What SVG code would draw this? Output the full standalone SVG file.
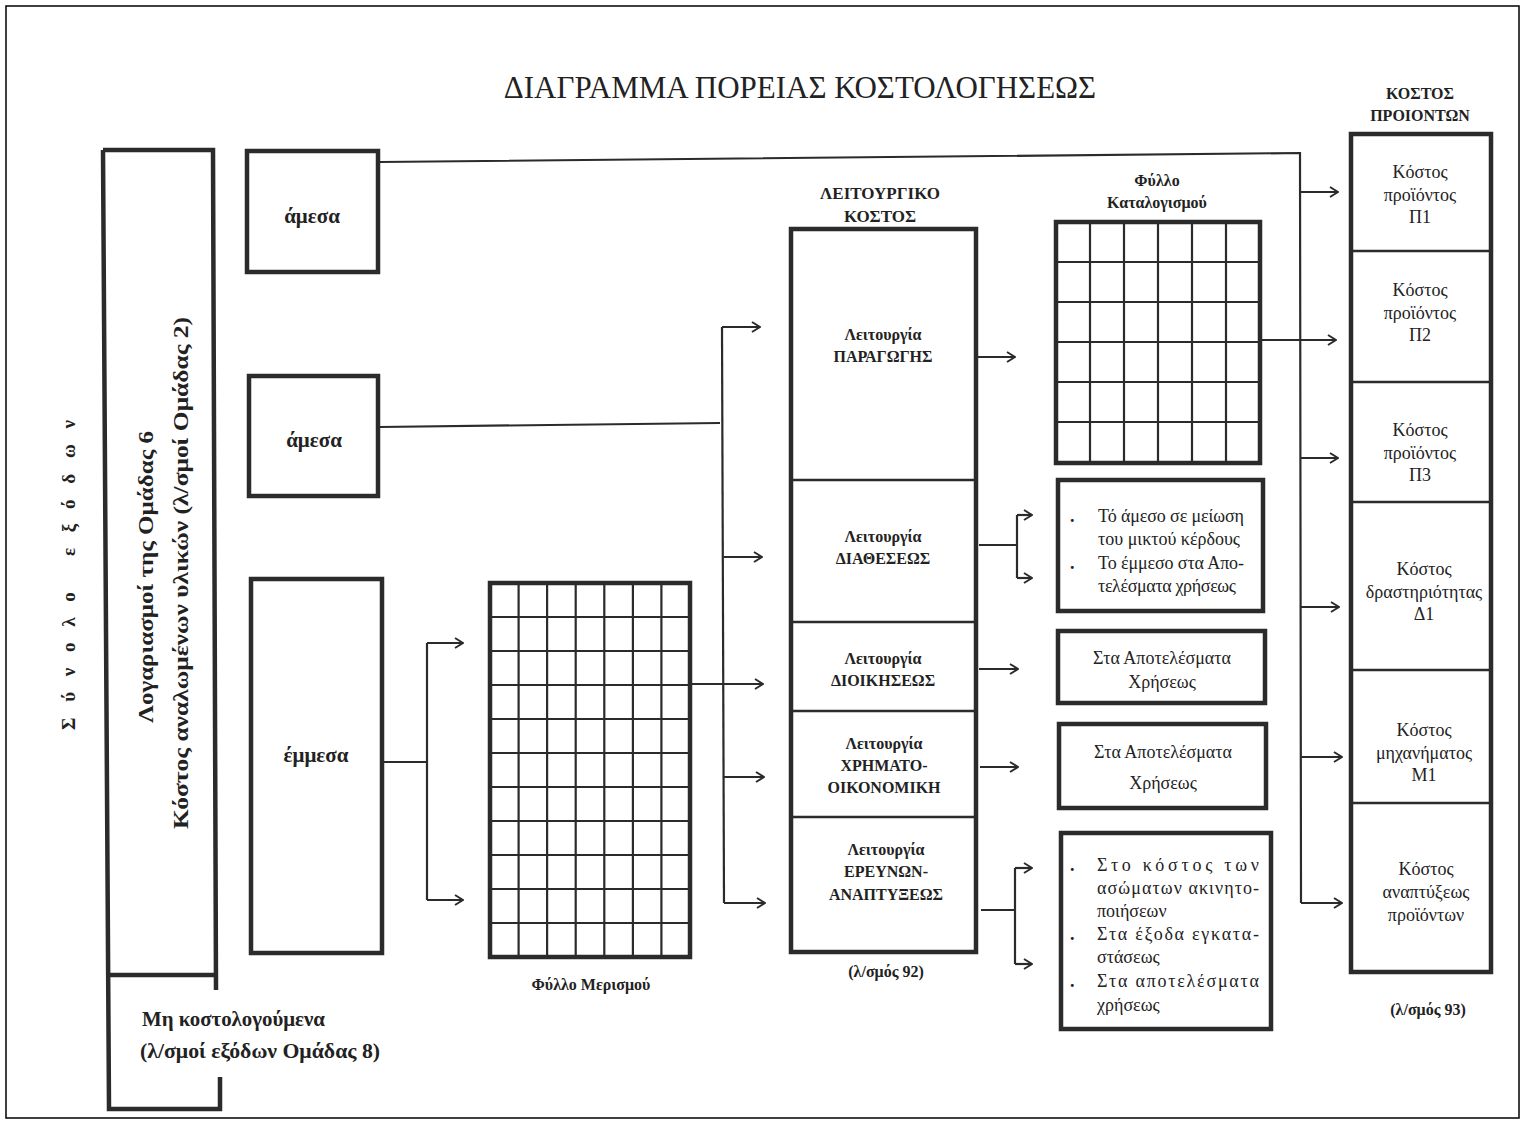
<svg xmlns="http://www.w3.org/2000/svg" width="1525" height="1124" viewBox="0 0 1525 1124">
<defs>
<style>
.bx{fill:#fff;stroke:#2b2b2b;stroke-width:4.5}
.ln{fill:none;stroke:#2b2b2b;stroke-width:2.2}
.gd{fill:none;stroke:#2b2b2b;stroke-width:2.2}
.dv{fill:none;stroke:#2b2b2b;stroke-width:2.5}
.ar{fill:none;stroke:#2b2b2b;stroke-width:2.2;marker-end:url(#ah)}
text{font-family:"Liberation Serif","DejaVu Serif",serif;fill:#222}
.b{font-weight:bold}
.t20{font-size:20px}
.t21{font-size:21px}
.t17{font-size:17px}
.t16{font-size:16px}
.t18{font-size:18px}
.m{text-anchor:middle}
</style>
<marker id="ah" viewBox="0 0 10 12" refX="9" refY="6" markerWidth="10" markerHeight="12" markerUnits="userSpaceOnUse" orient="auto">
<path d="M1,1 L9,6 L1,11" fill="none" stroke="#2b2b2b" stroke-width="2"/>
</marker>
</defs>
<rect x="0" y="0" width="1525" height="1124" fill="#fff"/>
<rect x="6" y="6" width="1513" height="1112" fill="none" stroke="#000" stroke-width="1.5"/>

<text x="800" y="98" class="m" font-size="31">ΔΙΑΓΡΑΜΜΑ ΠΟΡΕΙΑΣ ΚΟΣΤΟΛΟΓΗΣΕΩΣ</text>

<g id="total-label">
<text transform="translate(75,575) rotate(-90)" class="m b" font-size="19" textLength="310" lengthAdjust="spacing">Σύνολο εξόδων</text>
</g>

<g id="group6">
<path class="bx" d="M103,150 L213,150 L216,990 M107,975 L216,975 M103,150 L109,1109 L220,1109 L220,1077" fill="none"/>
<text transform="translate(153,577) rotate(-90)" class="m b" font-size="22" textLength="292" lengthAdjust="spacingAndGlyphs">Λογαριασμοί της Ομάδας 6</text>
<text transform="translate(188,573) rotate(-90)" class="m b" font-size="22" textLength="512" lengthAdjust="spacingAndGlyphs">Κόστος αναλωμένων υλικών (λ/σμοί Ομάδας 2)</text>
<text x="142" y="1026" class="b t21" textLength="183" lengthAdjust="spacingAndGlyphs">Μη κοστολογούμενα</text>
<text x="140" y="1058" class="b t21" textLength="240" lengthAdjust="spacingAndGlyphs">(λ/σμοί εξόδων Ομάδας 8)</text>
</g>

<g id="amesa1">
<rect class="bx" x="247" y="151" width="131" height="121"/>
<text x="312" y="223" class="m b t21">άμεσα</text>
</g>
<g id="amesa2">
<rect class="bx" x="249" y="376" width="129" height="120"/>
<text x="314" y="447" class="m b t21">άμεσα</text>
</g>
<g id="emmesa">
<rect class="bx" x="251" y="579" width="131" height="374"/>
<text x="316" y="762" class="m b t21">έμμεσα</text>
</g>

<g id="fyllo-merismou">
<rect class="bx" x="490" y="583" width="200" height="374"/>
<path class="gd" d="M518.6,583V957M547.1,583V957M575.7,583V957M604.3,583V957M632.9,583V957M661.4,583V957
M490,617H690M490,651H690M490,685H690M490,719H690M490,753H690M490,787H690M490,821H690M490,855H690M490,889H690M490,923H690"/>
<text x="591" y="990" class="m b t16">Φύλλο Μερισμού</text>
</g>

<g id="leitourgiko">
<text x="880" y="199" class="m b t17">ΛΕΙΤΟΥΡΓΙΚΟ</text>
<text x="880" y="222" class="m b t17">ΚΟΣΤΟΣ</text>
<rect class="bx" x="791" y="229" width="185" height="723"/>
<path class="dv" d="M791,480H976M791,622H976M791,711H976M791,817H976"/>
<text x="883" y="340" class="m b t16">Λειτουργία</text>
<text x="883" y="362" class="m b t16">ΠΑΡΑΓΩΓΗΣ</text>
<text x="883" y="542" class="m b t16">Λειτουργία</text>
<text x="883" y="564" class="m b t16">ΔΙΑΘΕΣΕΩΣ</text>
<text x="883" y="664" class="m b t16">Λειτουργία</text>
<text x="883" y="686" class="m b t16">ΔΙΟΙΚΗΣΕΩΣ</text>
<text x="884" y="749" class="m b t16">Λειτουργία</text>
<text x="884" y="771" class="m b t16">ΧΡΗΜΑΤΟ-</text>
<text x="884" y="793" class="m b t16">ΟΙΚΟΝΟΜΙΚΗ</text>
<text x="886" y="855" class="m b t16">Λειτουργία</text>
<text x="886" y="877" class="m b t16">ΕΡΕΥΝΩΝ-</text>
<text x="886" y="900" class="m b t16">ΑΝΑΠΤΥΞΕΩΣ</text>
<text x="886" y="977" class="m b t16">(λ/σμός 92)</text>
</g>

<g id="fyllo-katalogismou">
<text x="1157" y="186" class="m b t16">Φύλλο</text>
<text x="1157" y="208" class="m b t16">Καταλογισμού</text>
<rect class="bx" x="1056" y="222" width="204" height="241"/>
<path class="gd" d="M1090,222V463M1124,222V463M1158,222V463M1192,222V463M1226,222V463
M1056,262H1260M1056,302H1260M1056,342H1260M1056,382H1260M1056,422H1260"/>
</g>

<g id="diatheseos-dest">
<rect class="bx" x="1058" y="480" width="205" height="131"/>
<text x="1070" y="522" class="b t18">.</text>
<text x="1098" y="522" class="t18" textLength="146" lengthAdjust="spacing">Τό άμεσο σε μείωση</text>
<text x="1098" y="545" class="t18" textLength="142" lengthAdjust="spacing">του μικτού κέρδους</text>
<text x="1070" y="569" class="b t18">.</text>
<text x="1098" y="569" class="t18" textLength="146" lengthAdjust="spacing">Το έμμεσο στα Απο-</text>
<text x="1098" y="592" class="t18" textLength="138" lengthAdjust="spacing">τελέσματα χρήσεως</text>
</g>

<g id="dioikiseos-dest">
<rect class="bx" x="1058" y="631" width="207" height="72"/>
<text x="1162" y="664" class="m t18">Στα Αποτελέσματα</text>
<text x="1162" y="688" class="m t18">Χρήσεως</text>
</g>

<g id="xrimatooikonomiki-dest">
<rect class="bx" x="1059" y="724" width="207" height="84"/>
<text x="1163" y="758" class="m t18">Στα Αποτελέσματα</text>
<text x="1163" y="789" class="m t18">Χρήσεως</text>
</g>

<g id="ereynon-dest">
<rect class="bx" x="1061" y="833" width="210" height="196"/>
<text x="1070" y="871" class="b t18">.</text>
<text x="1097" y="871" class="t18" textLength="162" lengthAdjust="spacing">Στο κόστος των</text>
<text x="1097" y="894" class="t18" textLength="162" lengthAdjust="spacing">ασώματων ακινητο-</text>
<text x="1097" y="917" class="t18">ποιήσεων</text>
<text x="1070" y="940" class="b t18">.</text>
<text x="1097" y="940" class="t18" textLength="162" lengthAdjust="spacing">Στα έξοδα εγκατα-</text>
<text x="1097" y="963" class="t18">στάσεως</text>
<text x="1070" y="987" class="b t18">.</text>
<text x="1097" y="987" class="t18" textLength="162" lengthAdjust="spacing">Στα αποτελέσματα</text>
<text x="1097" y="1011" class="t18">χρήσεως</text>
</g>

<g id="kostos-proionton">
<text x="1420" y="99" class="m b t16">ΚΟΣΤΟΣ</text>
<text x="1420" y="121" class="m b t16">ΠΡΟΙΟΝΤΩΝ</text>
<rect class="bx" x="1351" y="134" width="140" height="838"/>
<path class="dv" d="M1351,251H1491M1351,382H1491M1351,502H1491M1351,670H1491M1351,803H1491"/>
<text x="1420" y="178" class="m t18">Κόστος</text>
<text x="1420" y="201" class="m t18">προϊόντος</text>
<text x="1420" y="223" class="m t18">Π1</text>
<text x="1420" y="296" class="m t18">Κόστος</text>
<text x="1420" y="319" class="m t18">προϊόντος</text>
<text x="1420" y="341" class="m t18">Π2</text>
<text x="1420" y="436" class="m t18">Κόστος</text>
<text x="1420" y="459" class="m t18">προϊόντος</text>
<text x="1420" y="481" class="m t18">Π3</text>
<text x="1424" y="575" class="m t18">Κόστος</text>
<text x="1424" y="598" class="m t18">δραστηριότητας</text>
<text x="1424" y="620" class="m t18">Δ1</text>
<text x="1424" y="736" class="m t18">Κόστος</text>
<text x="1424" y="759" class="m t18">μηχανήματος</text>
<text x="1424" y="781" class="m t18">Μ1</text>
<text x="1426" y="875" class="m t18">Κόστος</text>
<text x="1426" y="898" class="m t18">αναπτύξεως</text>
<text x="1426" y="921" class="m t18">προϊόντων</text>
<text x="1428" y="1015" class="m b t16">(λ/σμός 93)</text>
</g>

<g id="connectors">
<path class="ln" d="M380,162 L1300,153 L1301,903"/>
<path class="ar" d="M1301,192H1338"/>
<path class="ar" d="M1262,340H1336"/>
<path class="ar" d="M1301,458H1338"/>
<path class="ar" d="M1301,607H1339"/>
<path class="ar" d="M1301,757H1342"/>
<path class="ar" d="M1301,903H1342"/>

<path class="ln" d="M380,427 L720,423"/>
<path class="ln" d="M722,327 L724,903"/>
<path class="ar" d="M722,327H760"/>
<path class="ar" d="M723,557H762"/>
<path class="ar" d="M692,684H763"/>
<path class="ar" d="M724,777H764"/>
<path class="ar" d="M724,903H765"/>

<path class="ln" d="M384,762H427 M427,643V900"/>
<path class="ar" d="M427,643H463"/>
<path class="ar" d="M427,900H463"/>

<path class="ar" d="M978,357H1015"/>

<path class="ln" d="M979,545H1017 M1017,515V578"/>
<path class="ar" d="M1017,515H1032"/>
<path class="ar" d="M1017,578H1032"/>

<path class="ar" d="M979,669H1018"/>
<path class="ar" d="M980,767H1018"/>

<path class="ln" d="M981,910H1015 M1015,868V964"/>
<path class="ar" d="M1015,868H1032"/>
<path class="ar" d="M1015,964H1032"/>
</g>
</svg>
